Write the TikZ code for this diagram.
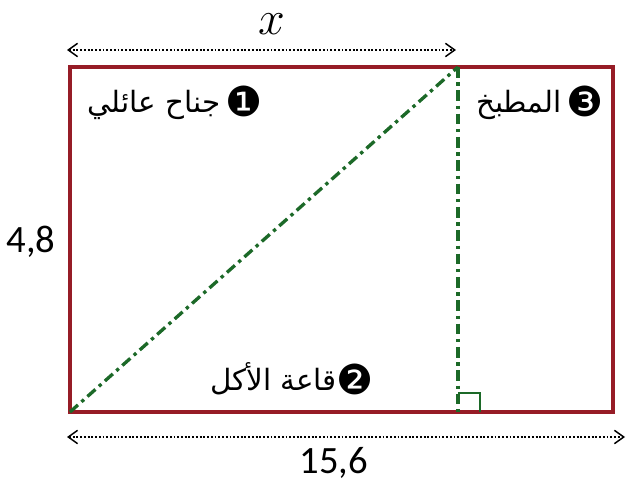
\documentclass[tikz,border=0pt]{standalone}
\usepackage{fontspec}
\setmainfont{Carlito}
\newfontfamily\arabicfont[Script=Arabic]{DejaVu Sans}
\newfontfamily\symfont{DejaVu Sans}
\TeXXeTstate=1
\usetikzlibrary{arrows.meta,calc}
\definecolor{wallred}{RGB}{150,28,38}
\definecolor{lineg}{RGB}{28,105,40}
\newcommand{\circnum}[1]{\raisebox{-0.12em}{\symfont\fontsize{31}{31}\selectfont #1}}
\tikzset{
  wall/.style={draw=wallred, line width=2.6pt},
  guide/.style={draw=lineg, line width=2.5pt, dash pattern=on 8pt off 3.5pt on 2.5pt off 3.5pt},
  dim/.style={draw=black, line width=1.1pt, dash pattern=on 1.4pt off 1.4pt, {Straight Barb[length=7pt,width=10pt,line width=1.1pt]}-{Straight Barb[length=7pt,width=10pt,line width=1.1pt]}},
  room/.style={font=\arabicfont\fontsize{22}{26}\selectfont, inner sep=0pt},
  num/.style={font=\fontsize{29}{33}\selectfont, inner sep=0pt}
}
\begin{document}
\begin{tikzpicture}[x=0.75pt,y=-0.75pt]
\useasboundingbox (0,0) rectangle (628,484);
\coordinate (A) at (70,412);
\coordinate (B) at (613,412);
\coordinate (C) at (613,67);
\coordinate (D) at (70,67);
\coordinate (T) at (458,67);
\coordinate (F) at (458,412);
\draw[wall] (A) -- (B) -- (C) -- (D) -- cycle;
\draw[guide] (A) -- (T);
\draw[guide] (T) -- (F);
\draw[lineg, line width=1.3pt] ($(F)+(0,-19)$) coordinate (r1) -- ++(22,0) coordinate (r2) -- ++(0,19) coordinate (r3);
\coordinate (xl) at (67,50);
\coordinate (xr) at (456,50);
\draw[dim] (xl) -- (xr);
\node[inner sep=0pt, scale=1.45, font=\fontsize{24}{28}\selectfont] (xlab) at (272,24) {$x$};
\coordinate (bl) at (67,437);
\coordinate (br) at (625,437);
\draw[dim] (bl) -- (br);
\node[num] (blab) at (334,463) {15,6};
\node[num] (hlab) at (31,242) {4,8};
\node[room] (r1lab) at (175,103) {\beginR\circnum{❶}\,جناح عائلي\endR};
\node[room] (r3lab) at (540,103) {\beginR\circnum{❸}\,المطبخ\endR};
\node[room] (r2lab) at (292,379) {\beginR\circnum{❷}قاعة الأكل\endR};
\end{tikzpicture}
\end{document}
